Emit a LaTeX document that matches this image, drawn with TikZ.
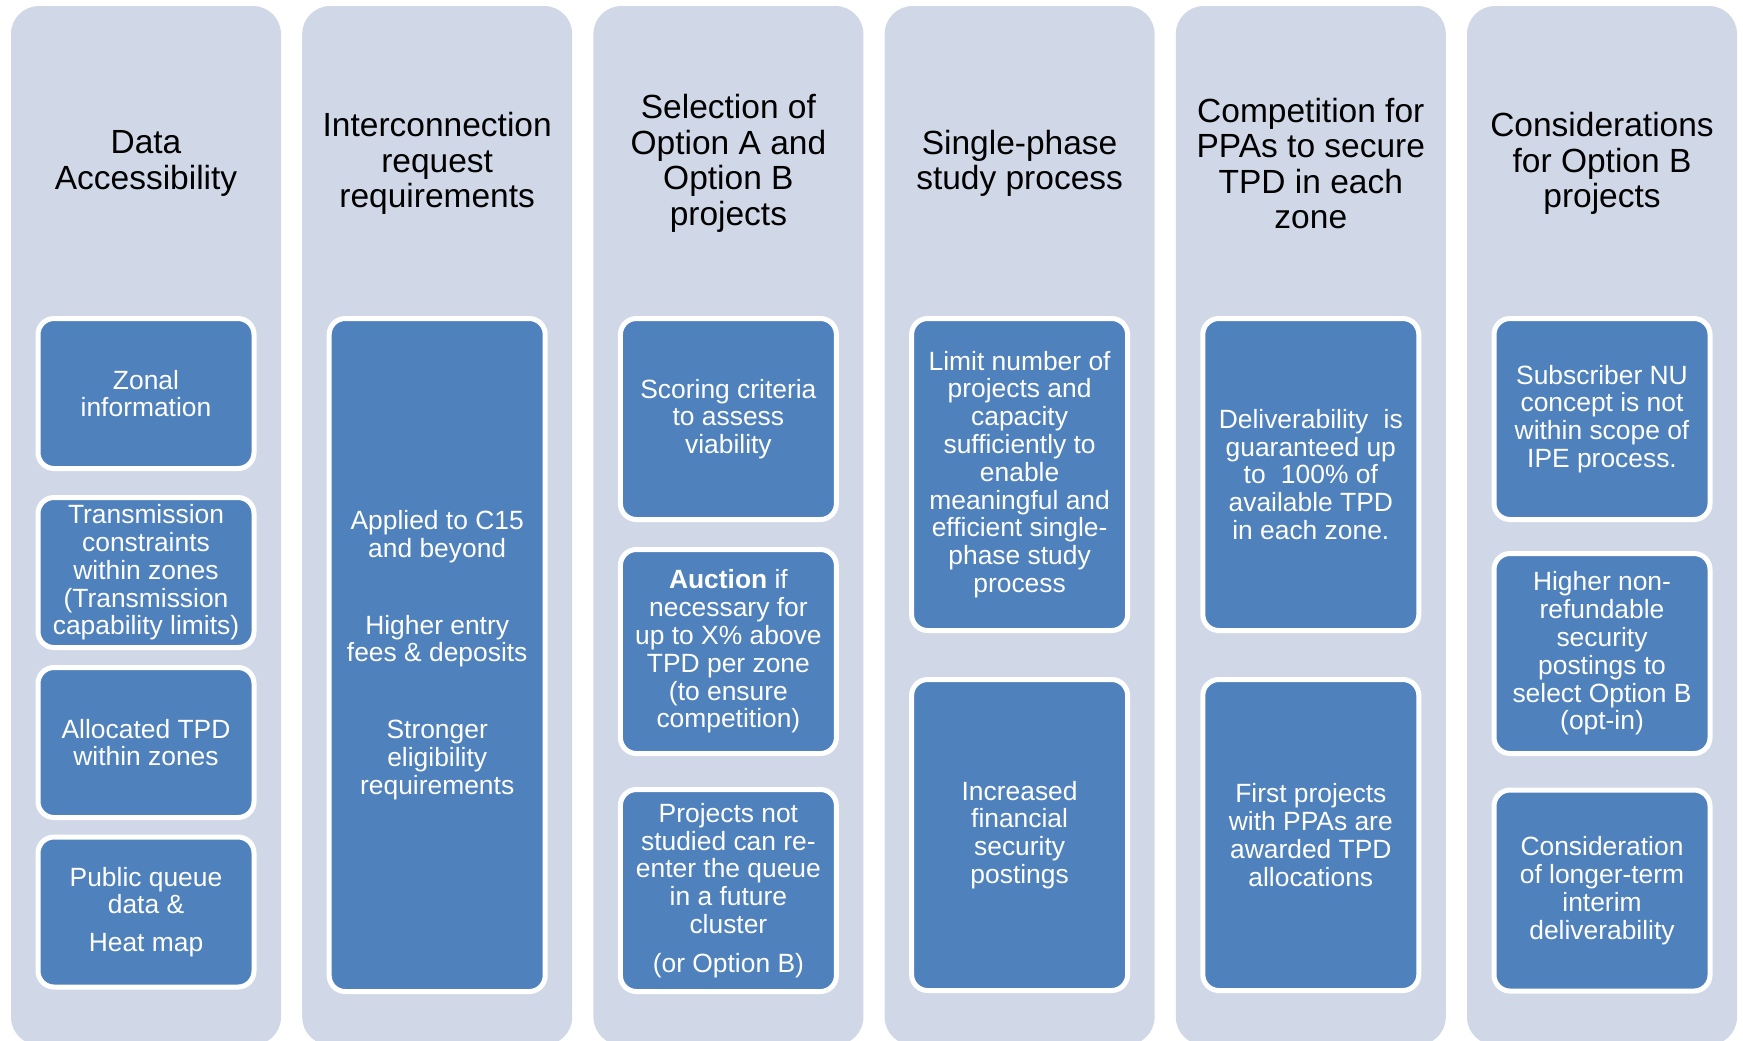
\documentclass[tikz,border=0pt]{standalone}
\usepackage{fontspec}
\setmainfont{Liberation Sans}
\definecolor{colbg}{HTML}{D0D8E8}
\definecolor{boxblue}{HTML}{4F81BD}
\begin{document}
\begin{tikzpicture}[x=0.5pt,y=-0.5pt,
  colbox/.style={fill=colbg, draw=none, rounded corners=14pt, minimum width=135pt, minimum height=519.5pt, inner sep=0pt},
  head/.style={font=\fontsize{16.75pt}{17.8pt}\selectfont, align=center, text=black, inner sep=0pt},
  card/.style={fill=boxblue, draw=white, line width=2.5pt, rounded corners=8pt, minimum width=108pt, text=white, align=center, inner sep=0pt, font=\fontsize{13.2pt}{13.9pt}\selectfont},
]
\useasboundingbox (0,0) rectangle (1743,1040);
\clip (0,0) rectangle (1743,1040);
\fill[white] (0,0) rectangle (1743,1040);

% columns
\node[colbox] (c1) at (146,525.5) {};
\node[colbox] (c2) at (437.2,525.5) {};
\node[colbox] (c3) at (728.4,525.5) {};
\node[colbox] (c4) at (1019.6,525.5) {};
\node[colbox] (c5) at (1310.8,525.5) {};
\node[colbox] (c6) at (1602,525.5) {};

% headings
\node[head] (h1) at (146,163.5) {Data\\Accessibility};
\node[head] (h2) at (437.2,163.5) {Interconnection\\request\\requirements};
\node[head] (h3) at (728.4,163.5) {Selection of\\Option A and\\Option B\\projects};
\node[head] (h4) at (1019.6,163.5) {Single-phase\\study process};
\node[head] (h5) at (1310.8,163.5) {Competition for\\PPAs to secure\\TPD in each\\zone};
\node[head] (h6) at (1602,163.5) {Considerations\\for Option B\\projects};

% column 1
\node[card, minimum height=75pt] (a1) at (146,393.5) {Zonal\\information};
\node[card, minimum height=75pt] (a2) at (146,572.5) {Transmission\\constraints\\within zones\\(Transmission\\capability limits)};
\node[card, minimum height=75pt] (a3) at (146,742.5) {Allocated TPD\\within zones};
\node[card, minimum height=75pt] (a4) at (146,912) {Public queue\\data \&\\[5pt]Heat map};

% column 2
\node[card, minimum height=336.5pt] (b1) at (437.2,655) {Applied to C15\\and beyond\\[24.5pt]Higher entry\\fees \& deposits\\[24.5pt]Stronger\\eligibility\\requirements};

% column 3
\node[card, minimum height=100.5pt] (d1) at (728.4,419) {Scoring criteria\\to assess\\viability};
\node[card, minimum height=102pt] (d2) at (728.4,651.5) {\textbf{Auction} if\\necessary for\\up to X\% above\\TPD per zone\\(to ensure\\competition)};
\node[card, minimum height=101pt] (d3) at (728.4,890.5) {Projects not\\studied can re-\\enter the queue\\in a future\\cluster\\[5.5pt](or Option B)};

% column 4
\node[card, minimum height=156pt] (e1) at (1019.6,474.5) {Limit number of\\projects and\\capacity\\sufficiently to\\enable\\meaningful and\\efficient single-\\phase study\\process};
\node[card, minimum height=155.5pt] (e2) at (1019.6,835) {Increased\\financial\\security\\postings};

% column 5
\node[card, minimum height=156pt] (f1) at (1310.8,474.5) {Deliverability\hspace{0.3em} is\\guaranteed up\\to\hspace{0.3em} 100\% of\\available TPD\\in each zone.};
\node[card, minimum height=155.5pt] (f2) at (1310.8,835) {First projects\\with PPAs are\\awarded TPD\\allocations};

% column 6
\node[card, minimum height=100.5pt] (g1) at (1602,419) {Subscriber NU\\concept is not\\within scope of\\IPE process.};
\node[card, minimum height=100pt] (g2) at (1602,653.5) {Higher non-\\refundable\\security\\postings to\\select Option B\\(opt-in)};
\node[card, minimum height=100.5pt] (g3) at (1602,890.5) {Consideration\\of longer-term\\interim\\deliverability};
\end{tikzpicture}
\end{document}
